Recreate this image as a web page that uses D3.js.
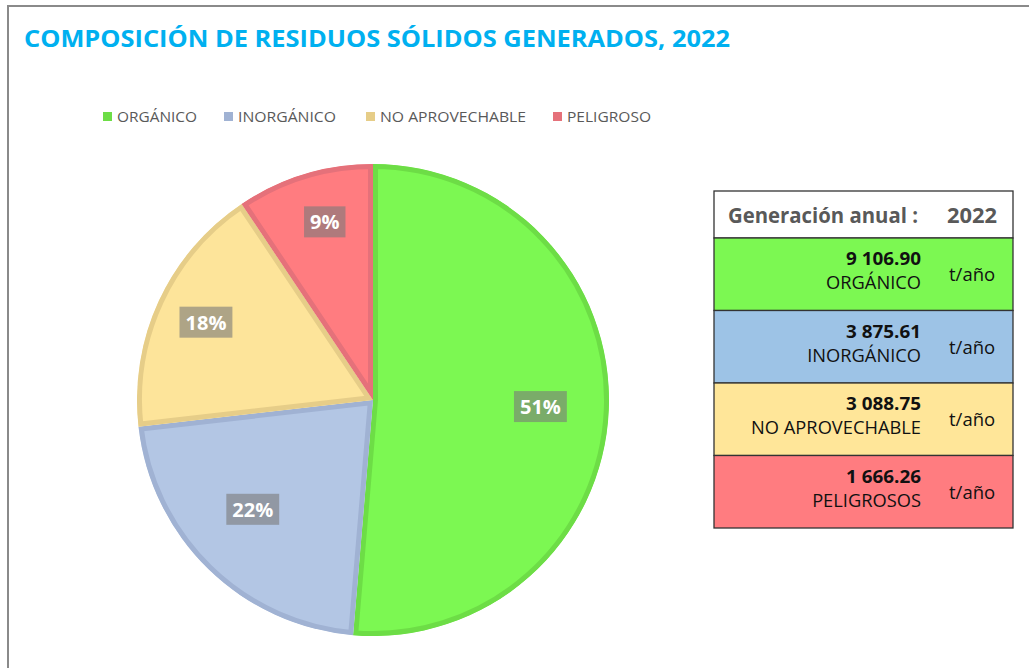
<!DOCTYPE html>
<html><head><meta charset="utf-8">
<script src="https://cdn.jsdelivr.net/npm/d3@7"></script>
<style>html,body{margin:0;padding:0;background:#fff;}svg{display:block;}</style>
</head><body>
<svg id="c" width="1029" height="668"></svg>
<script>
// ---- data ----
const title = "COMPOSICIÓN DE RESIDUOS SÓLIDOS GENERADOS, 2022";
const categories = ["ORGÁNICO", "INORGÁNICO", "NO APROVECHABLE", "PELIGROSO"];
const tableNames = ["ORGÁNICO", "INORGÁNICO", "NO APROVECHABLE", "PELIGROSOS"];
const values = [9106.90, 3875.61, 3088.75, 1666.26];
const valueLabels = ["9 106.90", "3 875.61", "3 088.75", "1 666.26"];
const pctLabels = ["51%", "22%", "18%", "9%"];
const tableHeader = ["Generación anual :", "2022"];
const unit = "t/año";

// ---- style ----
const fills = ["#7cf852", "#b3c6e4", "#fde49a", "#ff7c80"];
const strokes = ["#6ddd46", "#a0b2d3", "#e6cd88", "#e5717a"];
const rowFills = ["#7cf852", "#9dc3e6", "#ffe699", "#ff7c80"];
const labelR = [0.71, 0.69, 0.78, 0.78];
const labelAngleShift = [0, 0.06, 0, 0.03];
const FONT = "'Open Sans', 'Noto Sans', sans-serif";

const svg = d3.select("#c");

// frame
svg.append("path").attr("d", "M8,668 V6 H1029").attr("fill", "none")
  .attr("stroke", "#8a8a8a").attr("stroke-width", 2);

function fit(sel, w) { sel.attr("textLength", w).attr("lengthAdjust", "spacingAndGlyphs"); return sel; }

// title
fit(svg.append("text").attr("x", 24).attr("y", 47).attr("fill", "#00b0f0")
  .attr("font-family", FONT).attr("font-weight", 700).attr("font-size", 24).text(title), 706);

// legend
const legX = [103, 224, 366, 553];
const legW = [80, 98, 146, 84];
const leg = svg.append("g").selectAll("g").data(categories).join("g")
  .attr("transform", (d, i) => `translate(${legX[i]},0)`);
leg.append("rect").attr("x", 0).attr("y", 112).attr("width", 9).attr("height", 9)
  .attr("fill", (d, i) => strokes[i]);
leg.each(function (d, i) {
  fit(d3.select(this).append("text").attr("x", 14).attr("y", 122).attr("fill", "#595959")
    .attr("font-family", FONT).attr("font-size", 15).text(d), legW[i]);
});

// pie
const cx = 373, cy = 400, R = 236;
const pie = d3.pie().sort(null).value(d => d)(values);
const arc = d3.arc().innerRadius(0).outerRadius(R);
const g = svg.append("g").attr("transform", `translate(${cx},${cy})`);
const defs = svg.append("defs");
pie.forEach((p, i) => {
  defs.append("clipPath").attr("id", "clip" + i).append("path").attr("d", arc(p));
});
g.selectAll("path.slice").data(pie).join("path").attr("class", "slice")
  .attr("d", arc).attr("fill", (d, i) => fills[i])
  .attr("stroke", (d, i) => strokes[i]).attr("stroke-width", 10)
  .attr("clip-path", (d, i) => `url(#clip${i})`);

// percentage labels
pie.forEach((p, i) => {
  const a = (p.startAngle + p.endAngle) / 2 + labelAngleShift[i];
  const r = R * labelR[i];
  const x = Math.sin(a) * r, y = -Math.cos(a) * r;
  const lg = g.append("g").attr("transform", `translate(${x},${y})`);
  const rect = lg.append("rect").attr("fill", "#7a7a7a").attr("fill-opacity", 0.6);
  const t = lg.append("text").attr("text-anchor", "middle").attr("y", 7)
    .attr("fill", "#fff").attr("font-family", FONT).attr("font-weight", 700)
    .attr("font-size", 20).text(pctLabels[i]);
  const bb = t.node().getBBox();
  rect.attr("x", -bb.width / 2 - 6).attr("y", -16).attr("width", bb.width + 12).attr("height", 31);
});

// table
const tx0 = 714, tx1 = 1013, hTop = 191, hBot = 238, rowH = 72.5;
const tb = svg.append("g");
tb.append("rect").attr("x", tx0).attr("y", hTop).attr("width", tx1 - tx0).attr("height", hBot - hTop)
  .attr("fill", "#fff").attr("stroke", "#333").attr("stroke-width", 1.3);
fit(tb.append("text").attr("x", 728).attr("y", 223).attr("fill", "#595959")
  .attr("font-family", FONT).attr("font-weight", 700).attr("font-size", 21).text(tableHeader[0]), 190);
fit(tb.append("text").attr("x", 947).attr("y", 223).attr("fill", "#595959")
  .attr("font-family", FONT).attr("font-weight", 700).attr("font-size", 21).text(tableHeader[1]), 50);

const rows = tb.selectAll("g.row").data(values).join("g").attr("class", "row")
  .attr("transform", (d, i) => `translate(0,${hBot + i * rowH})`);
rows.append("rect").attr("x", tx0).attr("y", 0).attr("width", tx1 - tx0).attr("height", rowH)
  .attr("fill", (d, i) => rowFills[i]).attr("stroke", "#333").attr("stroke-width", 1.3);
rows.each(function (d, i) {
  const r = d3.select(this);
  fit(r.append("text").attr("x", 921).attr("y", 27).attr("text-anchor", "end").attr("fill", "#111")
    .attr("font-family", FONT).attr("font-weight", 700).attr("font-size", 18.5).text(valueLabels[i]), 75);
  r.append("text").attr("x", 921).attr("y", 51).attr("text-anchor", "end").attr("fill", "#111")
    .attr("font-family", FONT).attr("font-size", 18.3).text(tableNames[i]);
  r.append("text").attr("x", 949).attr("y", 43).attr("fill", "#111")
    .attr("font-family", FONT).attr("font-size", 18.5).text(unit);
});
</script>
</body></html>
